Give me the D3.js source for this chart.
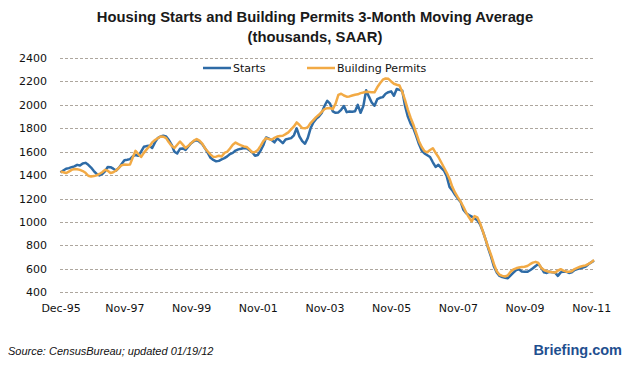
<!DOCTYPE html>
<html>
<head>
<meta charset="utf-8">
<script src="https://cdn.jsdelivr.net/npm/d3@7/dist/d3.min.js"></script>
<style>
  html, body { margin: 0; padding: 0; background: #ffffff; }
  svg { display: block; }
</style>
</head>
<body>
<div id="chart"></div>
<script>
// ---- Data (monthly, Dec-95 .. Dec-11, 3-month moving average, thousands SAAR) ----
const startMonth = "1995-12";
const xTickLabels = ["Dec-95", "Nov-97", "Nov-99", "Nov-01", "Nov-03", "Nov-05", "Nov-07", "Nov-09", "Nov-11"];
const xTickIndex = [0, 23, 47, 71, 95, 119, 143, 167, 191];
const yTicks = [400, 600, 800, 1000, 1200, 1400, 1600, 1800, 2000, 2200, 2400];
const seriesNames = ["Starts", "Building Permits"];

const starts = [
  1422, 1440, 1455, 1460, 1468, 1475, 1488, 1482, 1500, 1505, 1488, 1465,
  1435, 1410, 1398, 1410, 1432, 1470, 1468, 1455, 1440, 1462, 1495, 1528,
  1532, 1537, 1560, 1572, 1565, 1600, 1642, 1648, 1650, 1632, 1680, 1716,
  1730, 1736, 1730, 1700, 1659, 1600, 1585, 1625, 1628, 1616, 1645, 1673,
  1690, 1702, 1685, 1665, 1630, 1590, 1548, 1530, 1518, 1522, 1535, 1545,
  1560, 1580, 1590, 1610, 1620, 1625, 1632, 1630, 1612, 1595, 1565, 1572,
  1610, 1655, 1722, 1712, 1700, 1680, 1712, 1695, 1673, 1705, 1710, 1716,
  1740, 1800, 1730, 1690, 1668, 1718, 1800, 1850, 1880, 1900, 1930, 1990,
  2035, 2010, 1945, 1932, 1935, 1958, 1990, 1938, 1944, 1942, 1946, 2000,
  1932, 1990, 2125, 2070, 2020, 1992, 2048, 2060, 2066, 2095, 2108, 2115,
  2078, 2135, 2128, 2120, 1990, 1900, 1840, 1800, 1735, 1665, 1610, 1585,
  1570, 1555, 1510, 1470, 1488, 1462, 1440, 1390, 1300, 1270, 1232, 1200,
  1172, 1105, 1075, 1060, 1046, 1030, 1015, 980, 920, 850, 770, 700,
  620, 570, 540, 530, 525, 520, 545, 568, 590, 597, 578, 576,
  575, 588, 605, 625, 642, 610, 570, 565, 576, 572, 568, 540,
  570, 578, 576, 565, 570, 590, 598, 605, 612, 620, 640, 655,
  670
];

const permits = [
  1431, 1425, 1418, 1430, 1445, 1452, 1450, 1445, 1435, 1420, 1395, 1388,
  1392, 1398, 1410, 1425, 1445, 1438, 1418, 1425, 1440, 1462, 1485, 1490,
  1488, 1490, 1550, 1608, 1580, 1555, 1590, 1620, 1645, 1680, 1700, 1715,
  1730, 1728, 1716, 1680, 1650, 1632, 1660, 1687, 1660, 1632, 1650, 1673,
  1695, 1708, 1695, 1670, 1630, 1602, 1575, 1556, 1558, 1565, 1560, 1590,
  1600, 1628, 1660, 1678, 1665, 1655, 1645, 1640, 1620, 1595, 1598, 1614,
  1650, 1690, 1716, 1708, 1702, 1718, 1730, 1735, 1736, 1750, 1765, 1790,
  1816, 1850, 1828, 1802, 1800, 1810, 1845, 1870, 1895, 1915, 1940, 1964,
  1972, 1973, 1964, 2010, 2085, 2095, 2080, 2070, 2072, 2080, 2086, 2090,
  2100, 2105, 2112, 2110, 2108, 2107, 2150, 2185, 2215, 2225, 2222, 2200,
  2180, 2172, 2165, 2110, 2040, 1960, 1890, 1830, 1760, 1690, 1640, 1605,
  1595, 1615, 1630, 1590, 1555, 1510, 1465, 1420, 1370, 1300, 1250, 1210,
  1175, 1130, 1080, 1040, 1005, 1050, 1040, 990, 920, 850, 780, 715,
  640, 580, 550, 540, 535, 545, 575, 595, 605, 612, 615, 618,
  625, 640, 653, 660, 650, 610, 590, 580, 576, 572, 568, 585,
  597, 585, 576, 575, 580, 598, 608, 618, 624, 630, 642, 655,
  676
];

// ---- Layout ----
const W = 628, H = 369;
const colors = { starts: "#2E6BA6", permits: "#F2AA45" };

const svg = d3.select("#chart").append("svg")
  .attr("width", W).attr("height", H)
  .attr("viewBox", `0 0 ${W} ${H}`);

const x = d3.scaleLinear().domain([0, starts.length - 1]).range([60.5, 594]);
const y = d3.scaleLinear().domain([400, 2400]).range([292.3, 58]);

// Title
const title = svg.append("g").attr("font-family", "'Liberation Sans', Arial, sans-serif")
  .attr("font-weight", "bold").attr("fill", "#1a1a1a").attr("text-anchor", "middle");
title.append("text").attr("x", 315).attr("y", 22).attr("font-size", 14.8)
  .text("Housing Starts and Building Permits 3-Month Moving Average");
title.append("text").attr("x", 315).attr("y", 42).attr("font-size", 14.8)
  .text("(thousands, SAAR)");

// Gridlines
const grid = d3.axisLeft(y).tickValues(yTicks).tickSize(-(594 - 60)).tickFormat("");
const gGrid = svg.append("g").attr("transform", "translate(60,0)").call(grid);
gGrid.select(".domain").remove();
gGrid.selectAll("line").attr("stroke", "#ADA69E").attr("stroke-width", 1)
  .attr("stroke-dasharray", "3,2").attr("shape-rendering", "crispEdges");

// Y axis labels
const yAxis = d3.axisLeft(y).tickValues(yTicks).tickSize(0).tickPadding(0).tickFormat(d3.format("d"));
const gY = svg.append("g").attr("transform", "translate(47,0)").call(yAxis);
gY.select(".domain").remove();
gY.selectAll("text").attr("font-family", "'DejaVu Sans', Verdana, sans-serif")
  .attr("font-size", 11).attr("fill", "#111");

// X axis labels
const xAxis = d3.axisBottom(x).tickValues(xTickIndex).tickSize(0).tickPadding(0)
  .tickFormat((d, i) => xTickLabels[i]);
const gX = svg.append("g").attr("transform", "translate(0,304)").call(xAxis);
gX.select(".domain").remove();
gX.selectAll("text").attr("font-family", "'DejaVu Sans', Verdana, sans-serif")
  .attr("font-size", 11).attr("fill", "#111");

// Lines
const line = d3.line().x((d, i) => x(i)).y(d => y(d));
svg.append("path").datum(starts).attr("d", line).attr("fill", "none")
  .attr("stroke", colors.starts).attr("stroke-width", 2.5).attr("stroke-linejoin", "round");
svg.append("path").datum(permits).attr("d", line).attr("fill", "none")
  .attr("stroke", colors.permits).attr("stroke-width", 2.5).attr("stroke-linejoin", "round");

// Legend
const legend = svg.append("g").attr("font-family", "'DejaVu Sans', Verdana, sans-serif")
  .attr("font-size", 11).attr("fill", "#111");
const legItems = [
  { name: seriesNames[0], color: colors.starts, x0: 203 },
  { name: seriesNames[1], color: colors.permits, x0: 307 }
];
legItems.forEach(it => {
  legend.append("line").attr("x1", it.x0).attr("x2", it.x0 + 28).attr("y1", 68).attr("y2", 68)
    .attr("stroke", it.color).attr("stroke-width", 2.5);
  legend.append("text").attr("x", it.x0 + 30).attr("y", 72).text(it.name);
});

// Source
svg.append("text").attr("x", 8).attr("y", 355)
  .attr("font-family", "'Liberation Sans', Arial, sans-serif").attr("font-style", "italic")
  .attr("font-size", 11).attr("fill", "#111")
  .text("Source: CensusBureau; updated 01/19/12");

// Logo
svg.append("text").attr("x", 622).attr("y", 355).attr("text-anchor", "end")
  .attr("font-family", "'Liberation Sans', Arial, sans-serif").attr("font-weight", "bold")
  .attr("font-size", 14.5).attr("fill", "#1F4F8F")
  .text("Briefing.com");
</script>
</body>
</html>
